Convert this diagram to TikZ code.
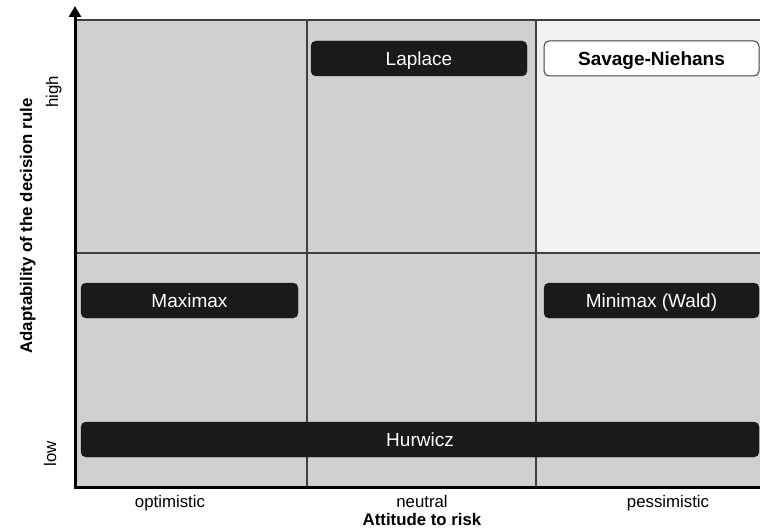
\documentclass[tikz,border=0pt]{standalone}
\usepackage{fontspec}
\setmainfont{Liberation Sans}
\usetikzlibrary{arrows.meta}
\definecolor{cellgray}{HTML}{D0D0D0}
\definecolor{celllight}{HTML}{F2F2F2}
\definecolor{boxdark}{HTML}{1A1A1A}
\definecolor{gridline}{HTML}{404040}
\begin{document}
\begin{tikzpicture}[x=1pt,y=1pt,
  rulebox/.style={rounded corners=5pt, fill=boxdark, draw=boxdark, text=white,
    minimum height=35pt, inner sep=0pt, text height=13.7pt, text depth=0pt,
    font=\fontsize{19}{22}\selectfont},
  rulebright/.style={rulebox, fill=white, draw=gridline, line width=1pt, text=black,
    font=\fontsize{19}{22}\selectfont\bfseries},
  ticklabel/.style={font=\fontsize{16.8}{19}\selectfont, anchor=base, inner sep=0pt},
  axistitle/.style={font=\fontsize{16.8}{19}\selectfont\bfseries, anchor=base, inner sep=0pt},
  gridrule/.style={draw=gridline, line width=1.5pt},
  axisrule/.style={draw=black, line width=3pt}]
\useasboundingbox[fill=white] (0,0) rectangle (760,531);

% cells
\fill[cellgray] (75,44) rectangle (760,511);
\fill[celllight] (536,278) rectangle (760,511);
\draw[gridrule] (75,511) -- (760,511);
\draw[gridrule] (75,278) -- (760,278);
\draw[gridrule] (307,44) -- (307,511);
\draw[gridrule] (536,44) -- (536,511);

% axes
\coordinate (origin) at (75,43.5);
\coordinate (ytip) at (75,525);
\coordinate (xstart) at (73.5,43.5);
\coordinate (xend) at (760,43.5);
\draw[axisrule] (xstart) -- (xend);
\draw[axisrule, -{Triangle[length=11pt,width=12pt]}] (origin) -- (ytip);

% decision rules
\node[rulebox, minimum width=216pt] (laplace) at (419,472.5) {Laplace};
\node[rulebright, minimum width=215pt] (savage) at (651.5,472.5) {Savage-Niehans};
\node[rulebox, minimum width=217pt] (maximax) at (189.5,230.5) {Maximax};
\node[rulebox, minimum width=215pt] (minimax) at (651.5,230.5) {Minimax (Wald)};
\node[rulebox, minimum width=678pt] (hurwicz) at (420,91.5) {Hurwicz};

% axis labels
\node[ticklabel] (opt) at (170,24) {optimistic};
\node[ticklabel] (neu) at (422,24) {neutral};
\node[ticklabel] (pes) at (668,24) {pessimistic};
\node[axistitle] (xtitle) at (422,6) {Attitude to risk};
\node[ticklabel, rotate=90] (high) at (58,439) {high};
\node[ticklabel, rotate=90] (low) at (56,77) {low};
\node[axistitle, rotate=90] (ytitle) at (32,305) {Adaptability of the decision rule};
\end{tikzpicture}
\end{document}
